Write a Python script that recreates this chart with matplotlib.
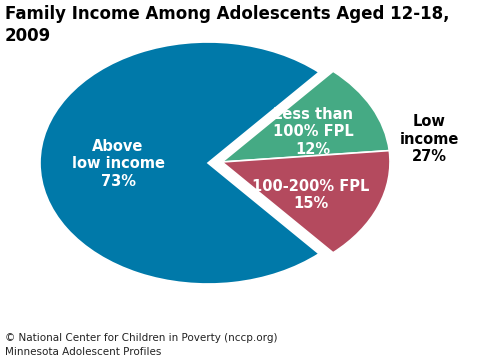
import matplotlib
matplotlib.use('Agg')
import matplotlib.pyplot as plt

# data
labels = ['Less than\n100% FPL', 'Above\nlow income', '100-200% FPL']
shares = [12, 73, 15]
colors = ['#45AA84', '#0079A9', '#B44A5E']
low_income = [0, 2]  # wedges pulled out together

W, H = 498, 363
fig = plt.figure(figsize=(W / 100, H / 100), dpi=100)

# axes where 1 data unit = 168 px across and 121 px down (stretched pie)
cx, cy, rx, ry = 208, 163, 168, 121
ax = fig.add_axes([0, 0, 1, 1])

# center the low-income group on the horizontal
start = (360 - 360 * shares[1] / 100) / 2 - 360 * shares[0] / 100
wedges, _ = ax.pie(shares, colors=colors, startangle=start, counterclock=True,
                   wedgeprops=dict(linewidth=1.2, edgecolor='white'))
for i in low_income:
    wedges[i].set_center((14 / rx, 1 / ry))

ax.set_aspect('auto')
ax.set_xlim(-cx / rx, (W - cx) / rx)
ax.set_ylim(-(H - cy) / ry, cy / ry)
ax.axis('off')


def px(x, y):
    return x / W, 1 - y / H


lab_kw = dict(color='white', fontweight='bold', fontsize=10.5,
              ha='center', va='center', linespacing=1.2)
fig.text(*px(118, 164), f'{labels[1]}\n{shares[1]}%', **lab_kw)
fig.text(*px(313, 132), f'{labels[0]}\n{shares[0]}%', **lab_kw)
fig.text(*px(311, 195), f'{labels[2]}\n{shares[2]}%', **lab_kw)
fig.text(*px(429, 139), f'Low\nincome\n{shares[0] + shares[2]}%',
         color='black', fontweight='bold', fontsize=10.5,
         ha='center', va='center', linespacing=1.2)

fig.text(*px(5, 5), 'Family Income Among Adolescents Aged 12-18,\n2009',
         fontsize=12, fontweight='bold', ha='left', va='top', linespacing=1.3)
fig.text(*px(5, 357), '© National Center for Children in Poverty (nccp.org)\n'
         'Minnesota Adolescent Profiles',
         fontsize=7.5, ha='left', va='bottom', color='#222222', linespacing=1.55)

fig.savefig('out.png', dpi=100)
